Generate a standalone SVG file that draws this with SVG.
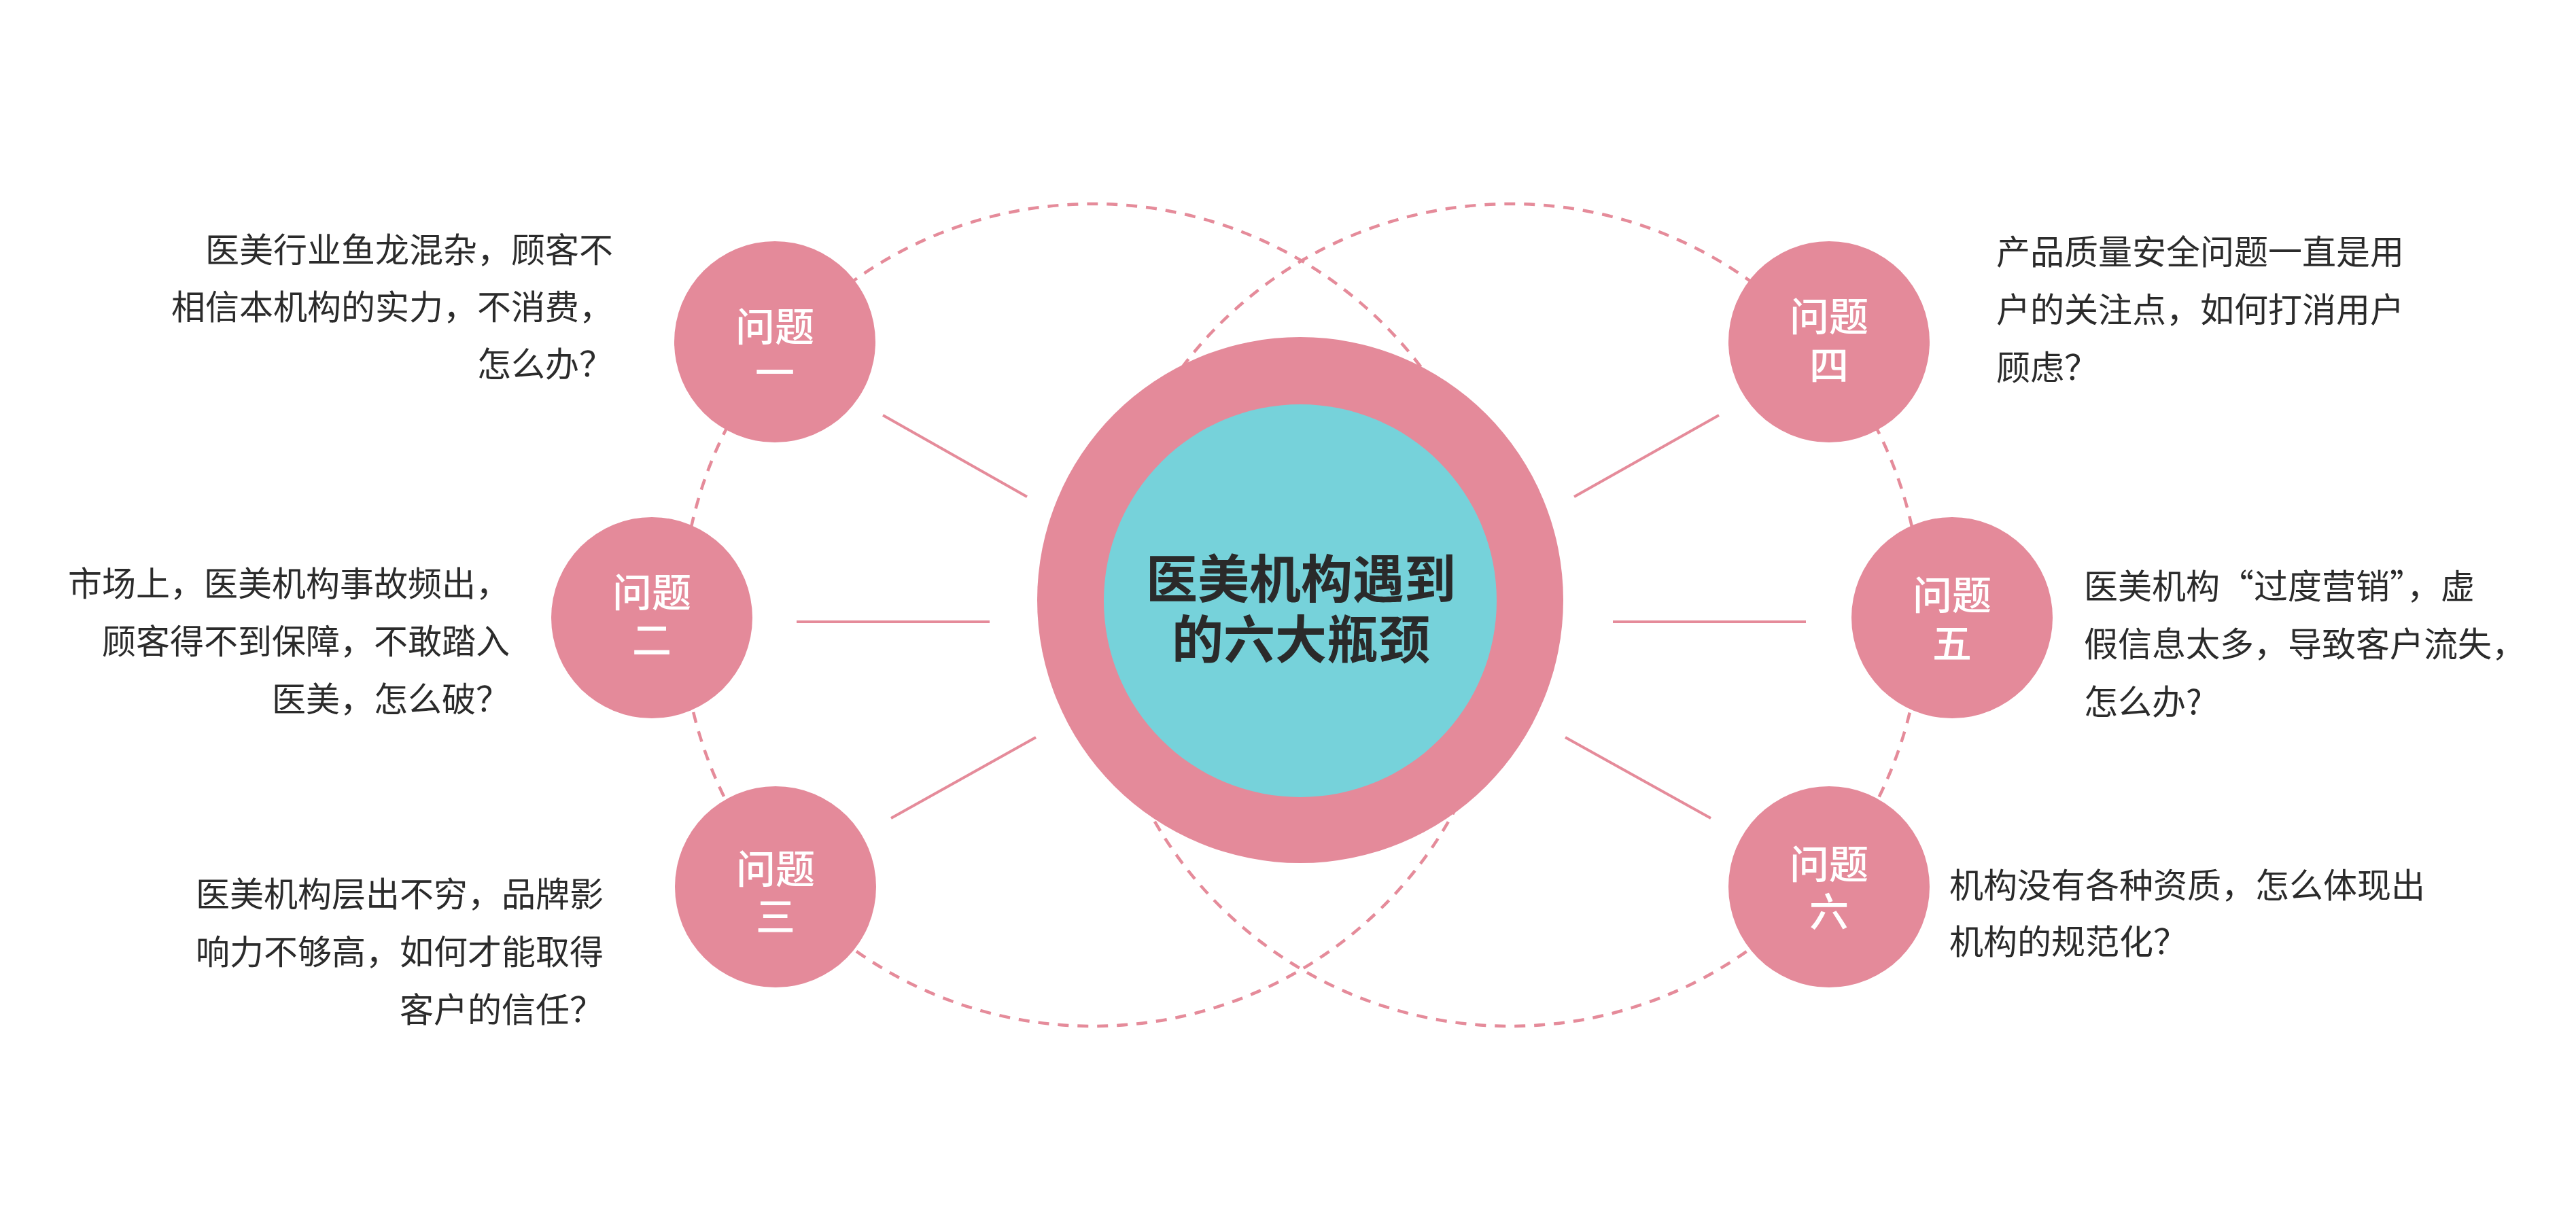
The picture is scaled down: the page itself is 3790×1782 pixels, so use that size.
<svg xmlns="http://www.w3.org/2000/svg" width="3790" height="1782" viewBox="0 0 3790 1782">
<style>
.dash{fill:none;stroke:#e58b9a;stroke-width:4.5;stroke-dasharray:16 13}
.conn{stroke:#e58b9a;stroke-width:4;fill:none}
.node{fill:#e48a9a}
.lbl{font-family:"Noto Sans CJK SC","Noto Sans",sans-serif;font-size:58px;font-weight:500;fill:#ffffff;text-anchor:middle}
.body{font-family:"Noto Sans CJK SC","Noto Sans",sans-serif;font-size:50px;font-weight:400;fill:#2b2b2b}
.l{text-anchor:end}
.title{font-family:"Noto Sans CJK SC","Noto Sans",sans-serif;font-size:76px;font-weight:700;fill:#2a2a2a;text-anchor:middle}
</style>
<rect width="3790" height="1782" fill="#ffffff"/>
<g id="rings">
<circle class="dash" cx="1608" cy="905" r="605"/>
<circle class="dash" cx="2222" cy="905" r="605"/>
</g>
<g id="connectors">
<line class="conn" x1="1299" y1="611" x2="1511" y2="731"/>
<line class="conn" x1="1172" y1="915" x2="1456" y2="915"/>
<line class="conn" x1="1311" y1="1204" x2="1524" y2="1085"/>
<line class="conn" x1="2316" y1="731" x2="2529" y2="611"/>
<line class="conn" x1="2373" y1="915" x2="2657" y2="915"/>
<line class="conn" x1="2303" y1="1085" x2="2517" y2="1204"/>
</g>
<g id="center">
<circle cx="1913" cy="883" r="387" fill="#e48a9a"/>
<circle cx="1913" cy="884" r="289" fill="#76d2da"/>
<text class="title"><tspan x="1914" y="880">医美机构遇到</tspan><tspan x="1914" y="969">的六大瓶颈</tspan></text>
</g>
<g id="q1">
<circle class="node" cx="1140" cy="503" r="148"/>
<text class="lbl"><tspan x="1140" y="502">问题</tspan><tspan x="1140" y="570">一</tspan></text>
</g>
<g id="q2">
<circle class="node" cx="959" cy="909" r="148"/>
<text class="lbl"><tspan x="959" y="893">问题</tspan><tspan x="959" y="963">二</tspan></text>
</g>
<g id="q3">
<circle class="node" cx="1141" cy="1305" r="148"/>
<text class="lbl"><tspan x="1141" y="1300">问题</tspan><tspan x="1141" y="1370">三</tspan></text>
</g>
<g id="q4">
<circle class="node" cx="2691" cy="503" r="148"/>
<text class="lbl"><tspan x="2691" y="487">问题</tspan><tspan x="2691" y="559">四</tspan></text>
</g>
<g id="q5">
<circle class="node" cx="2872" cy="909" r="148"/>
<text class="lbl"><tspan x="2872" y="897">问题</tspan><tspan x="2872" y="968">五</tspan></text>
</g>
<g id="q6">
<circle class="node" cx="2691" cy="1305" r="148"/>
<text class="lbl"><tspan x="2691" y="1293">问题</tspan><tspan x="2691" y="1363">六</tspan></text>
</g>
<g id="t1">
<text class="body l"><tspan x="902" y="386">医美行业鱼龙混杂，顾客不</tspan><tspan x="902" y="470">相信本机构的实力，不消费，</tspan><tspan x="902" y="554">怎么办？</tspan></text>
</g>
<g id="t2">
<text class="body l"><tspan x="750" y="877">市场上，医美机构事故频出，</tspan><tspan x="750" y="962">顾客得不到保障，不敢踏入</tspan><tspan x="750" y="1047">医美，怎么破？</tspan></text>
</g>
<g id="t3">
<text class="body l"><tspan x="888" y="1334">医美机构层出不穷，品牌影</tspan><tspan x="888" y="1419">响力不够高，如何才能取得</tspan><tspan x="888" y="1504">客户的信任？</tspan></text>
</g>
<g id="t4">
<text class="body"><tspan x="2937" y="389">产品质量安全问题一直是用</tspan><tspan x="2937" y="474">户的关注点，如何打消用户</tspan><tspan x="2937" y="559">顾虑？</tspan></text>
</g>
<g id="t5">
<text class="body"><tspan x="3066" y="881">医美机构“过度营销”，虚</tspan><tspan x="3066" y="966">假信息太多，导致客户流失，</tspan><tspan x="3066" y="1051">怎么办?</tspan></text>
</g>
<g id="t6">
<text class="body"><tspan x="2868" y="1321">机构没有各种资质，怎么体现出</tspan><tspan x="2868" y="1404">机构的规范化？</tspan></text>
</g>
</svg>
